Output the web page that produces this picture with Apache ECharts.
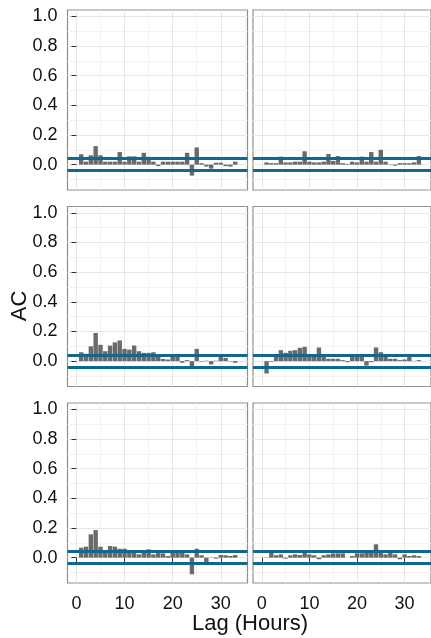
<!DOCTYPE html>
<html><head><meta charset="utf-8">
<script src="https://cdn.jsdelivr.net/npm/echarts@6/dist/echarts.min.js"></script>
<style>html,body{margin:0;padding:0;background:#fff}#c{width:431px;height:638px}</style>
</head><body><div id="c"></div>
<script>
const lags = [1,2,3,4,5,6,7,8,9,10,11,12,13,14,15,16,17,18,19,20,21,22,23,24,25,26,27,28,29,30,31,32,33];
const acfTopLeft = [0.07,0.02,0.063,0.125,0.063,0.02,0.02,0.02,0.085,0.02,0.056,0.056,0.02,0.08,0.053,0.02,-0.01,0.02,0.02,0.02,0.02,0.02,0.08,-0.074,0.116,0.01,-0.013,-0.027,0.013,0.013,-0.01,-0.013,0.02];
const acfTopRight = [0.015,0.01,0.01,0.054,0.015,0.015,0.02,0.02,0.09,0.02,0.015,0.015,0.02,0.072,0.025,0.058,0.01,0.005,0.02,0.015,0.054,0.02,0.085,0.02,0.1,0.02,-0.003,-0.007,0.01,0.01,0.01,0.015,0.058];
const acfMidLeft = [0.06,0.05,0.1,0.19,0.11,0.067,0.105,0.127,0.14,0.083,0.078,0.105,0.067,0.056,0.056,0.06,0.034,0.015,0.011,0.03,0.045,-0.011,0.007,-0.045,0.083,-0.004,0.003,-0.022,0.003,0.034,0.022,-0.003,-0.011];
const acfMidRight = [-0.083,-0.005,0.03,0.074,0.056,0.07,0.074,0.09,0.096,0.038,0.038,0.092,0.03,0.016,0.016,0.016,0.007,-0.007,0.03,0.034,0.034,-0.03,-0.007,0.092,0.06,0.03,0.016,0.016,0.007,0.011,0.03,0.002,0.007];
const acfBotLeft = [0.067,0.074,0.157,0.186,0.074,0.038,0.078,0.074,0.06,0.06,0.05,0.038,0.022,0.05,0.056,0.022,0.045,0.029,0.011,0.045,0.05,0.034,0.022,-0.112,0.06,0.016,-0.038,-0.002,-0.007,0.018,0.016,0.011,0.018];
const acfBotRight = [0.002,0.05,0.016,0.022,-0.007,0.016,0.022,0.018,0.034,0.022,0.016,-0.011,0.016,0.022,0.029,0.029,0.029,0.0,0.011,0.029,0.029,0.034,0.034,0.09,0.05,0.022,0.045,0.022,-0.011,0.022,0.011,0.016,0.011];
const confBound = 0.038;
const xTicks = [0,10,20,30];
const xMinorTicks = [5,15,25,35];
const yTicks = [0,0.2,0.4,0.6,0.8,1.0];
const yMinorTicks = [-0.1,0.1,0.3,0.5,0.7,0.9];
const xLabel = 'Lag (Hours)';
const yLabel = 'AC';

const panels = [acfTopLeft, acfTopRight, acfMidLeft, acfMidRight, acfBotLeft, acfBotRight];
const lefts = [67.5, 253];
const tops = [10, 206.5, 403];
const W = 180, H = 180;
const xMin = -1.85, xMax = 35.55, yMin = -0.171, yMax = 1.043;
const textColor = '#111';
const font = 'Liberation Sans, Arial, sans-serif';

const grid = [], xAxis = [], yAxis = [], series = [];
panels.forEach((vals, i) => {
  const row = Math.floor(i / 2), col = i % 2;
  grid.push({left: lefts[col], top: tops[row], width: W, height: H, show: true,
    borderColor: '#8f8f8f', borderWidth: 1.2, backgroundColor: '#fff', containLabel: false});
  const isBottom = row === 2, isLeft = col === 0;
  xAxis.push({type: 'value', gridIndex: i, min: xMin, max: xMax, position: 'bottom',
    axisLine: {show: false},
    axisTick: {show: isBottom, customValues: xTicks, length: 5, lineStyle: {color: '#333', width: 1}},
    axisLabel: {show: isBottom, customValues: xTicks, margin: 12, fontSize: 18, color: textColor, fontFamily: font},
    splitLine: {show: true, lineStyle: {color: '#e6e6e6', width: 1}}});
  xAxis.push({type: 'value', gridIndex: i, min: xMin, max: xMax, position: 'top',
    axisLine: {show: false},
    axisTick: {show: false, customValues: xMinorTicks},
    axisLabel: {show: false, customValues: xMinorTicks},
    splitLine: {show: true, lineStyle: {color: '#f3f3f3', width: 1}}});
  yAxis.push({type: 'value', gridIndex: i, min: yMin, max: yMax, position: 'left',
    axisLine: {show: false},
    axisTick: {show: isLeft, customValues: yTicks, length: 5, lineStyle: {color: '#333', width: 1}},
    axisLabel: {show: isLeft, customValues: yTicks, margin: 10, fontSize: 18, color: textColor, fontFamily: font,
      formatter: v => v.toFixed(1)},
    splitLine: {show: true, lineStyle: {color: '#e6e6e6', width: 1}}});
  yAxis.push({type: 'value', gridIndex: i, min: yMin, max: yMax, position: 'right',
    axisLine: {show: false},
    axisTick: {show: false, customValues: yMinorTicks},
    axisLabel: {show: false, customValues: yMinorTicks},
    splitLine: {show: true, lineStyle: {color: '#f3f3f3', width: 1}}});
  series.push({type: 'bar', xAxisIndex: 2 * i, yAxisIndex: 2 * i,
    data: lags.map((l, k) => [l, vals[k]]),
    barWidth: 4.4, itemStyle: {color: '#6a6a6a'}, silent: true, animation: false,
    markLine: {silent: true, symbol: ['none', 'none'], label: {show: false}, animation: false,
      lineStyle: {color: '#12688c', width: 3, type: 'solid'},
      emphasis: {disabled: true},
      data: [{yAxis: confBound}, {yAxis: -confBound}]}});
});

const chart = echarts.init(document.getElementById('c'), null, {renderer: 'canvas'});
chart.setOption({
  animation: false,
  grid, xAxis, yAxis, series,
  graphic: [
    {type: 'text', x: 250, y: 624,
      style: {text: xLabel, font: '22px ' + font, fill: textColor, align: 'center', verticalAlign: 'middle'}},
    {type: 'text', x: 20, y: 306, rotation: Math.PI / 2,
      style: {text: yLabel, font: '22px ' + font, fill: textColor, align: 'center', verticalAlign: 'middle'}}
  ]
});
</script></body></html>
